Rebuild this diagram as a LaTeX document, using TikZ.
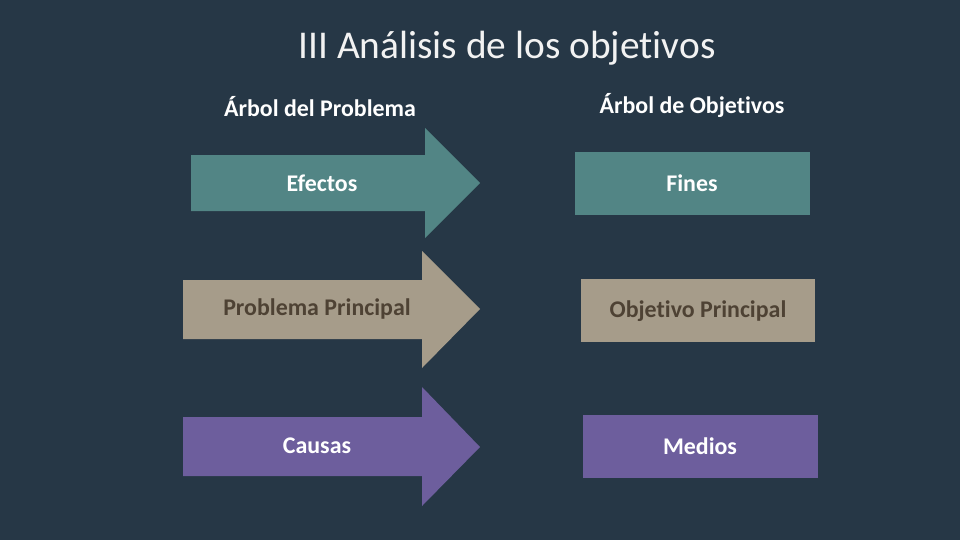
\documentclass[tikz,border=0pt]{standalone}
\usepackage{fontspec}
\setmainfont{Carlito}[Ligatures=NoCommon]
\usetikzlibrary{positioning}
\definecolor{slatebg}{RGB}{38,55,70}
\definecolor{tealbox}{RGB}{82,133,133}
\definecolor{tanbox}{RGB}{166,156,138}
\definecolor{purplebox}{RGB}{109,94,157}
\definecolor{browntxt}{RGB}{78,66,52}
\definecolor{titlewhite}{RGB}{242,242,242}

\begin{document}
\begin{tikzpicture}[x=0.025cm, y=-0.025cm,
    boxlabel/.style={font=\fontsize{17}{19}\selectfont\bfseries, text=#1, inner sep=0pt},
    subhead/.style={font=\fontsize{17}{19}\selectfont\bfseries, text=white, inner sep=0pt},
    goalbox/.style={fill=#1, draw=none}]

% Background
\fill[slatebg] (0,0) rectangle (960,540);
\useasboundingbox (0,0) rectangle (960,540);

% Title
\node[font=\fontsize{28}{32}\selectfont, text=titlewhite, inner sep=0pt] (title) at (507,48) {III Análisis de los objetivos};

% Column headings
\node[subhead] (hprob) at (320,107) {Árbol del Problema};
\node[subhead] (hobj) at (692,105) {Árbol de Objetivos};

% ----------------------------------------
%  LEFT: arrows (problem tree)
% ----------------------------------------
\fill[tealbox] (191,155) -- (425,155) -- (425,128) -- (480,183)
    -- (425,238) -- (425,211) -- (191,211) -- cycle;
\node[boxlabel=white] (efectos) at (322,183) {Efectos};

\fill[tanbox] (183,280) -- (422,280) -- (422,251) -- (480,309)
    -- (422,368) -- (422,339) -- (183,339) -- cycle;
\node[boxlabel=browntxt] (problema) at (317,309) {Problema Principal};

\fill[purplebox] (183,417) -- (422,417) -- (422,387) -- (480,447)
    -- (422,506) -- (422,476) -- (183,476) -- cycle;
\node[boxlabel=white] (causas) at (317,446) {Causas};

% ----------------------------------------
%  RIGHT: boxes (objective tree)
% ----------------------------------------
\fill[goalbox=tealbox] (575,152) rectangle (810,215);
\node[boxlabel=white] (fines) at (692,183) {Fines};

\fill[goalbox=tanbox] (581,279) rectangle (815,342);
\node[boxlabel=browntxt] (objetivo) at (698,311) {Objetivo Principal};

\fill[goalbox=purplebox] (583,415) rectangle (818,478);
\node[boxlabel=white] (medios) at (700,446) {Medios};

\end{tikzpicture}
\end{document}
